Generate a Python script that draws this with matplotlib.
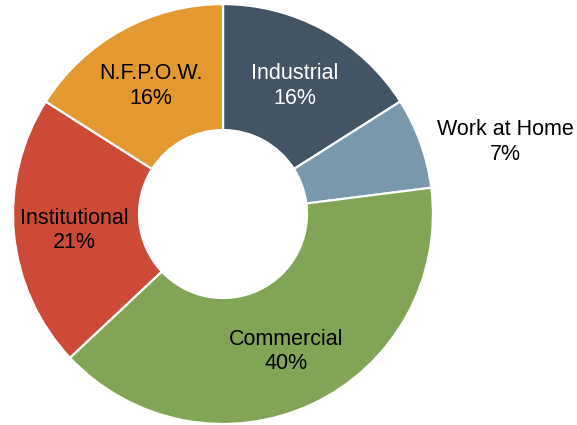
import numpy as np
import matplotlib.pyplot as plt

plt.rcParams['font.family'] = ['Liberation Sans', 'DejaVu Sans']

# trip share by destination type
categories = ['Industrial', 'Work at Home', 'Commercial', 'Institutional', 'N.F.P.O.W.']
shares = [16, 7, 40, 21, 16]
colors = ['#435465', '#7A98AC', '#81A457', '#CC4A36', '#E49930']
text_colors = ['white', 'black', 'black', 'black', 'black']

fig = plt.figure(figsize=(5.77, 4.25), dpi=100)
ax = fig.add_axes([0.0225, 0.0024, 0.728, 0.988])

wedges, _ = ax.pie(shares, colors=colors, startangle=90, counterclock=False,
                   radius=1.0,
                   wedgeprops=dict(width=0.6, edgecolor='white', linewidth=1.6))

ax.set_xlim(-1, 1)
ax.set_ylim(-1, 1)
ax.set_aspect('equal')
ax.axis('off')

# labels sit in the middle of the ring; the thin slice gets its label outside
for w, name, pct, tc in zip(wedges, categories, shares, text_colors):
    mid = np.deg2rad((w.theta1 + w.theta2) / 2)
    r = 0.71
    if name == 'Work at Home':
        r = 1.39
        mid -= np.deg2rad(5)
    ax.text(r * np.cos(mid), r * np.sin(mid) - 0.012, f'{name}\n{pct}%',
            ha='center', va='center', fontsize=15.5, color=tc,
            linespacing=1.22, clip_on=False)

fig.savefig('out.png', dpi=100)
plt.close(fig)
